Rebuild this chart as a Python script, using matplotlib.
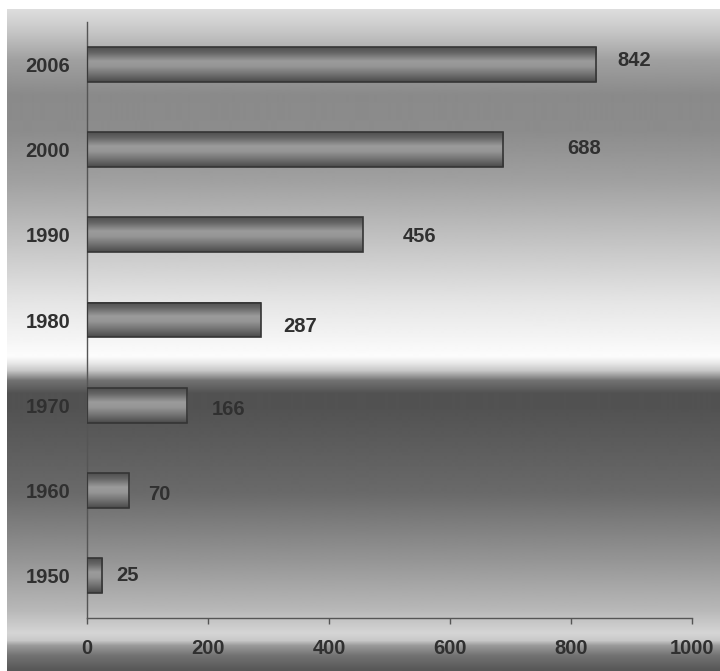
import matplotlib
matplotlib.use("Agg")
import matplotlib.pyplot as plt
import numpy as np

# data
years = ["1950", "1960", "1970", "1980", "1990", "2000", "2006"]
values = [25, 70, 166, 287, 456, 688, 842]
x_ticks = [0, 200, 400, 600, 800, 1000]

# label offsets from bar end, in pixels (dx right, dy down)
label_dx = [14, 19, 24, 23, 40, 64, 21]
label_dy = [0, 4, 4, 6, 2, -1, -4]

W, H = 720, 671
plt.rcParams['font.family'] = ['Liberation Sans', 'DejaVu Sans']
text_color = '#303030'
axis_color = '#555555'
fsize = 14.5

fig = plt.figure(figsize=(W / 100, H / 100), dpi=100)
fig.patch.set_facecolor('white')

# background gradient (rows in pixel units from top of image)
bg_top = 9
rows = np.arange(bg_top, H)
stop_y = [9, 30, 60, 95, 130, 180, 250, 300, 340, 356, 362, 370, 380, 393, 407,
          493, 560, 610, 633, 640, 645, 655, 671]
stop_g = [222, 200, 160, 138, 140, 160, 200, 228, 245, 252, 235, 200, 115, 82, 82,
          106, 149, 184, 213, 200, 155, 115, 85]
grad = np.interp(rows, stop_y, stop_g)

bg = fig.add_axes([7 / W, 0, 1 - 7 / W, (H - bg_top) / H])
bg.imshow(grad[:, None], cmap='gray', vmin=0, vmax=255, aspect='auto',
          extent=[0, 1, 0, 1], origin='upper', interpolation='bilinear')
bg.set_axis_off()
bg.set_zorder(0)

ax = fig.add_axes([87 / W, (H - 618) / H, 605 / W, 596 / H])
ax.set_zorder(1)
ax.patch.set_alpha(0)

pos = np.arange(len(years))
bars = ax.barh(pos, values, height=0.41, color='none', edgecolor='#353535',
               linewidth=1.2, zorder=3)

# metallic shading inside each bar
t = np.linspace(0, 1, 64)
bar_grad = np.interp(t, [0, 0.15, 0.4, 0.55, 0.8, 1], [80, 100, 155, 150, 110, 75])
for p in bars.patches:
    x0, y0 = p.get_x(), p.get_y()
    ax.imshow(bar_grad[:, None], cmap='gray', vmin=0, vmax=255, aspect='auto',
              extent=[x0, x0 + p.get_width(), y0, y0 + p.get_height()],
              origin='upper', interpolation='bilinear', clip_path=p, zorder=2)

for v, y, dx, dy in zip(values, pos, label_dx, label_dy):
    ax.annotate(str(v), xy=(v, y), xytext=(dx * 0.72, -dy * 0.72),
                textcoords='offset points', ha='left', va='center',
                fontsize=fsize, fontweight='bold', color=text_color)

ax.set_xlim(0, 1000)
ax.set_ylim(-0.5, 6.5)
ax.set_xticks(x_ticks)
ax.set_xticklabels([str(x) for x in x_ticks])
ax.set_yticks(pos)
ax.set_yticklabels(years)

for lab in ax.get_xticklabels() + ax.get_yticklabels():
    lab.set_fontsize(fsize)
    lab.set_fontweight('bold')
    lab.set_color(text_color)

ax.tick_params(axis='y', length=0, pad=12)
ax.tick_params(axis='x', length=4.2, width=1, color=axis_color, pad=11)

for s in ['top', 'right']:
    ax.spines[s].set_visible(False)
for s in ['left', 'bottom']:
    ax.spines[s].set_color(axis_color)
    ax.spines[s].set_linewidth(1)

fig.savefig('out.png', dpi=100)
